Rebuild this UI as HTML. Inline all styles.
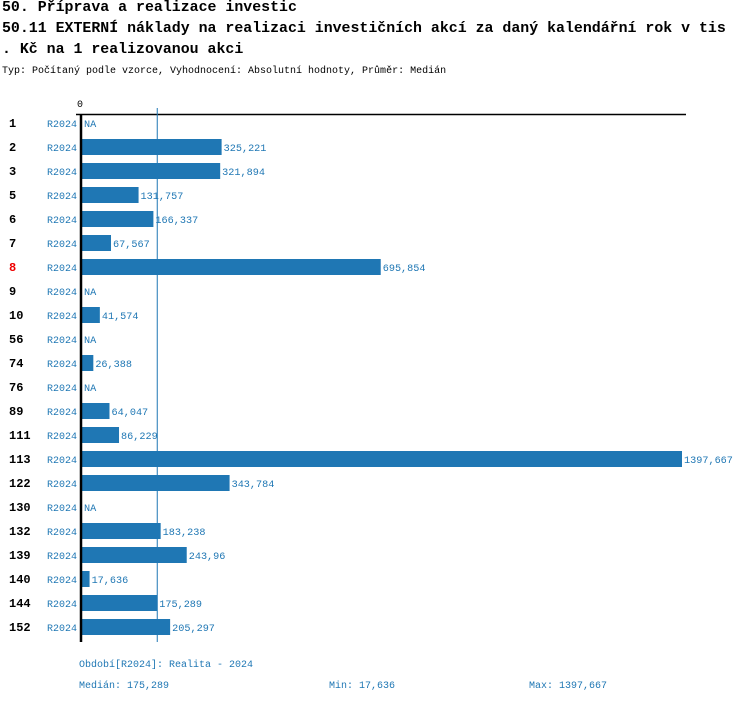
<!DOCTYPE html>
<html><head><meta charset="utf-8"><style>
body{margin:0;background:#fff;width:750px;height:702px;overflow:hidden;font-family:"Liberation Mono",monospace}
.t{position:absolute;left:2px;font-size:14.9px;line-height:17px;font-weight:bold;color:#000;white-space:nowrap}
</style></head><body>
<div class="t" style="top:0px">50. Příprava a realizace investic</div>
<div class="t" style="top:21px">50.11 EXTERNÍ náklady na realizaci investičních akcí za daný kalendářní rok v tis</div>
<div class="t" style="top:42px">. Kč na 1 realizovanou akci</div>
<div style="position:absolute;left:2px;top:66px;font-size:10px;white-space:nowrap">Typ: Počítaný podle vzorce, Vyhodnocení: Absolutní hodnoty, Průměr: Medián</div>
<svg id="c" width="750" height="702" style="position:absolute;left:0;top:0" font-family="Liberation Mono, monospace"></svg>
<script>
const categories=["1","2","3","5","6","7","8","9","10","56","74","76","89","111","113","122","130","132","139","140","144","152"];
const values=[null,325.221,321.894,131.757,166.337,67.567,695.854,null,41.574,null,26.388,null,64.047,86.229,1397.667,343.784,null,183.238,243.96,17.636,175.289,205.297];
const valueLabels=["NA","325,221","321,894","131,757","166,337","67,567","695,854","NA","41,574","NA","26,388","NA","64,047","86,229","1397,667","343,784","NA","183,238","243,96","17,636","175,289","205,297"];
const highlight=["8"];
const median=175.289;
const svg=document.getElementById('c');const NS='http://www.w3.org/2000/svg';
const x0=82,xMax=1397.667,xPx=600;
const xs=v=>x0+v/xMax*xPx;
const ys=i=>123+i*24;
function mk(tag,at,txt){const e=document.createElementNS(NS,tag);for(const k in at)e.setAttribute(k,at[k]);if(txt!=null)e.textContent=txt;svg.appendChild(e);return e;}
let e;
e=mk('line',{x1:76,y1:114.5,x2:686,y2:114.5,stroke:'#000','stroke-width':1.5});


e=mk('text',{x:80,y:107,'font-size':10,'text-anchor':'middle',fill:'#000'},'0');


e=mk('line',{x1:xs(median),y1:108,x2:xs(median),y2:642,stroke:'#1f77b4','stroke-width':1});


categories.forEach((c,i)=>{
 const y=ys(i);
 e=mk('text',{x:9,y:y+4,'font-size':12,'font-weight':'bold',fill:highlight.includes(c)?'#e00':'#000'},c);
 
 
 e=mk('text',{x:47,y:y+4,'font-size':10,fill:'#1f77b4'},'R2024');
 
 
 let end=x0;
 if(values[i]!=null){
  e=mk('rect',{x:x0,y:y-8,width:xs(values[i])-x0,height:16,fill:'#1f77b4'});
  
  
  end=xs(values[i]);
 }
 e=mk('text',{x:end+2,y:y+4,'font-size':10.2,fill:'#1f77b4'},valueLabels[i]);
 
 
});
e=mk('line',{x1:81,y1:114,x2:81,y2:642,stroke:'#000','stroke-width':2.5});


const foot=[[79,667,'Období[R2024]: Realita - 2024','footer-period'],[79,688,'Medián: 175,289','footer-median'],[329,688,'Min: 17,636','footer-min'],[529,688,'Max: 1397,667','footer-max']];
foot.forEach(f=>{e=mk('text',{x:f[0],y:f[1],'font-size':10,fill:'#1f77b4'},f[2]);
 
 });
</script>
</body></html>
